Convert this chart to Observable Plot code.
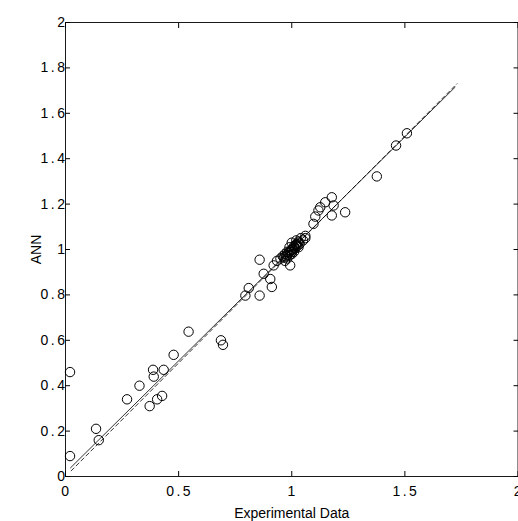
<!DOCTYPE html>
<html><head><meta charset="utf-8">
<script src="https://cdn.jsdelivr.net/npm/d3@7"></script>
<script src="https://cdn.jsdelivr.net/npm/@observablehq/plot@0.6"></script>
<style>body{margin:0;background:#fff;} svg{overflow:visible}</style>
</head><body><div id="chart"></div>
<script>
// Experimental data (x) vs ANN prediction (y)
const expX = [0.02, 0.02, 0.135, 0.147, 0.272, 0.327, 0.372, 0.387, 0.39, 0.405, 0.427, 0.434, 0.478, 0.544, 0.687, 0.696,
  0.795, 0.81, 0.858, 0.858, 0.876, 0.905, 0.912, 0.92, 0.935, 0.95, 0.993,
  0.96, 0.97, 0.98, 0.99, 1.0, 1.0, 0.99, 1.01, 1.02, 1.0, 1.02, 1.03, 1.04, 1.05, 1.06, 1.06, 0.98, 1.01, 0.97, 1.03,
  0.965, 0.975, 0.985, 0.99, 0.995, 1.005, 1.01, 1.015, 1.02, 1.025, 1.03, 1.035, 0.98, 1.0,
  1.096, 1.104, 1.118, 1.126, 1.148, 1.177, 1.185, 1.177, 1.236, 1.376, 1.461, 1.509];
const annY = [0.09, 0.46, 0.21, 0.16, 0.34, 0.40, 0.31, 0.47, 0.44, 0.34, 0.355, 0.47, 0.536, 0.638, 0.60, 0.58,
  0.797, 0.83, 0.955, 0.797, 0.893, 0.87, 0.835, 0.93, 0.95, 0.96, 0.93,
  0.97, 0.98, 0.99, 0.99, 1.0, 0.98, 1.01, 1.01, 1.02, 1.03, 1.04, 1.03, 1.05, 1.04, 1.06, 1.05, 0.96, 0.99, 0.95, 1.01,
  0.965, 0.97, 0.985, 0.975, 0.995, 1.0, 1.015, 1.005, 1.025, 1.015, 1.035, 1.025, 0.975, 0.99,
  1.113, 1.145, 1.172, 1.186, 1.208, 1.23, 1.194, 1.15, 1.164, 1.322, 1.458, 1.512];
// fitted line (solid) and ideal y = x line (dashed), endpoints
const fitX = [0.022, 1.722];
const fitY = [0.038, 1.715];
const refX = [0.025, 1.73];
const refY = [0.025, 1.73];
// ticks
const xTicks = [0, 0.5, 1, 1.5, 2];
const xTickLabels = ["0", "0.5", "1", "1.5", "2"];
const yTicks = [0, 0.2, 0.4, 0.6, 0.8, 1, 1.2, 1.4, 1.6, 1.8, 2];
const yTickLabels = ["0", "0.2", "0.4", "0.6", "0.8", "1", "1.2", "1.4", "1.6", "1.8", "2"];

const points = expX.map((x, i) => ({x, y: annY[i]}));
const fit = fitX.map((x, i) => ({x, y: fitY[i]}));
const ref = refX.map((x, i) => ({x, y: refY[i]}));
const empty = () => "";

const chart = Plot.plot({
  width: 518, height: 521,
  marginLeft: 65, marginRight: 0.5, marginTop: 22, marginBottom: 45,
  style: {fontFamily: "'Liberation Sans', Arial, sans-serif", fontSize: "14px", color: "#000", background: "#fff"},
  x: {domain: [0, 2]},
  y: {domain: [0, 2]},
  marks: [
    Plot.frame({stroke: "#000", strokeOpacity: 0.9}),
    Plot.axisX(xTicks, {anchor: "bottom", tickSize: 0, tickPadding: 10, dx: 1, tickFormat: d => xTickLabels[xTicks.indexOf(d)],
      label: "Experimental Data", labelAnchor: "center", labelArrow: "none", labelOffset: 41}),
    Plot.axisX(xTicks, {anchor: "bottom", tickSize: -5, tickFormat: empty, label: null}),
    Plot.axisX(xTicks, {anchor: "top", tickSize: -5, tickFormat: empty, label: null}),
    Plot.axisY(yTicks, {anchor: "left", tickSize: 0, tickPadding: 0, dx: 2, tickFormat: d => yTickLabels[yTicks.indexOf(d)],
      label: "ANN", labelAnchor: "center", labelArrow: "none", labelOffset: 34}),
    Plot.axisY(yTicks, {anchor: "left", tickSize: -5, tickFormat: empty, label: null}),
    Plot.axisY(yTicks, {anchor: "right", tickSize: -5, tickFormat: empty, label: null}),
    Plot.line(fit, {x: "x", y: "y", stroke: "#000", strokeWidth: 1, strokeOpacity: 0.8}),
    Plot.line(ref, {x: "x", y: "y", stroke: "#000", strokeWidth: 1, strokeOpacity: 0.8, strokeDasharray: "4,3"}),
    Plot.dot(points, {x: "x", y: "y", r: 4.7, stroke: "#000", fill: "none", strokeWidth: 1})
  ]
});
chart.querySelectorAll('[aria-label$="tick label"] text').forEach(t => t.setAttribute("letter-spacing", "2.5"));
document.getElementById("chart").appendChild(chart);
</script>
</body></html>
